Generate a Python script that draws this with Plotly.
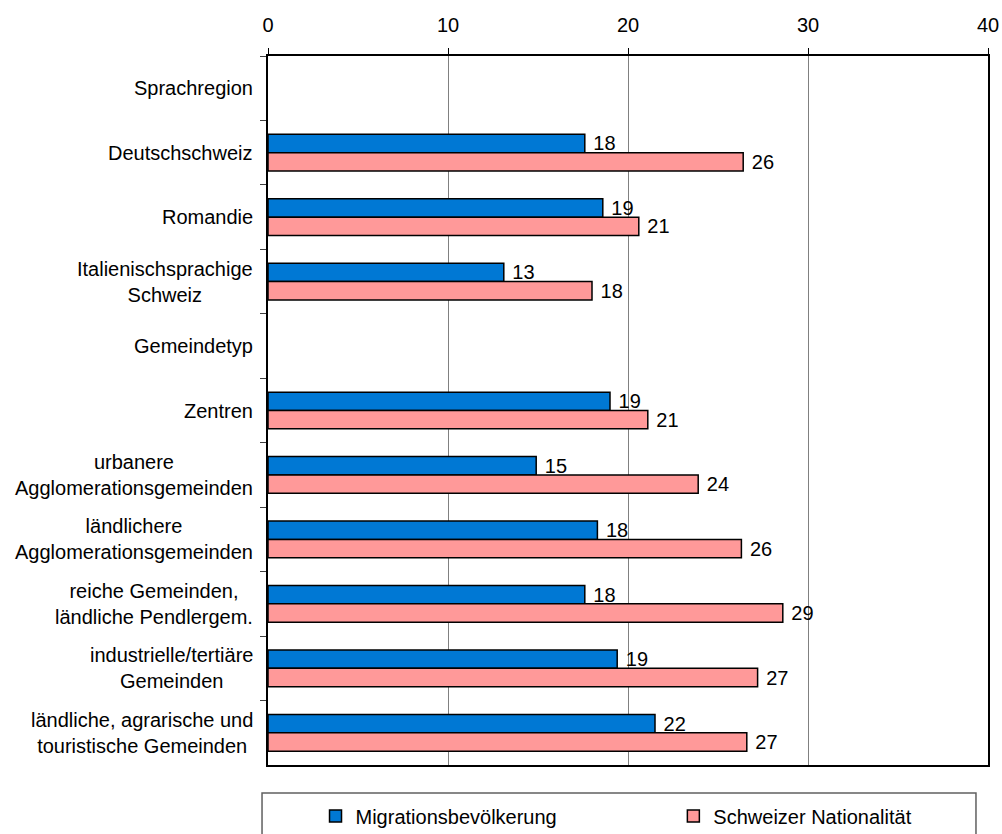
import plotly.graph_objects as go

# Categories, top to bottom (section headers have no bars)
categories = [
    "Sprachregion",
    "Deutschschweiz",
    "Romandie",
    "Italienischsprachige<br>Schweiz",
    "Gemeindetyp",
    "Zentren",
    "urbanere<br>Agglomerationsgemeinden",
    "ländlichere<br>Agglomerationsgemeinden",
    "reiche Gemeinden,<br>ländliche Pendlergem.",
    "industrielle/tertiäre<br>Gemeinden",
    "ländliche, agrarische und<br>touristische Gemeinden",
]

migration = [None, 17.6, 18.6, 13.1, None, 19.0, 14.9, 18.3, 17.6, 19.4, 21.5]
schweizer = [None, 26.4, 20.6, 18.0, None, 21.1, 23.9, 26.3, 28.6, 27.2, 26.6]

series_names = ["Migrationsbevölkerung", "Schweizer Nationalität"]
x_ticks = [0, 10, 20, 30, 40]

FONT = "Liberation Sans, Arial, sans-serif"
FS = 20

fig = go.Figure()
for name, vals, color, leg in [
    (series_names[0], migration, "#0078D4", "legend"),
    (series_names[1], schweizer, "#FF9999", "legend2"),
]:
    fig.add_trace(go.Bar(
        y=categories,
        x=vals,
        name=name,
        legend=leg,
        orientation="h",
        marker=dict(color=color, line=dict(color="black", width=1.5)),
        texttemplate=" %{x:.0f}",
        textposition="outside",
        textfont=dict(family=FONT, size=FS, color="black"),
        constraintext="none",
        cliponaxis=False,
    ))

# Category labels, multi-line ones centred line by line
for cat in categories:
    fig.add_annotation(
        x=0, xref="paper", y=cat, yref="y",
        text=cat, showarrow=False,
        xanchor="right", yanchor="middle", align="center",
        xshift=-13,
        font=dict(family=FONT, size=FS, color="black"),
    )

legend_style = dict(
    orientation="h",
    xanchor="left",
    y=-0.072, yanchor="middle",
    bgcolor="rgba(0,0,0,0)",
    borderwidth=0,
    font=dict(family=FONT, size=FS, color="black"),
)

fig.update_layout(
    width=1002,
    height=834,
    margin=dict(l=268, r=14, t=56, b=69, autoexpand=False),
    paper_bgcolor="white",
    plot_bgcolor="white",
    barmode="group",
    bargap=0.43,
    bargroupgap=0,
    font=dict(family=FONT, size=FS, color="black"),
    showlegend=True,
    legend=dict(x=0.066, **legend_style),
    legend2=dict(x=0.563, **legend_style),
    xaxis=dict(
        side="top",
        range=[0, 40],
        tickvals=x_ticks,
        ticks="outside",
        ticklen=6,
        tickcolor="black",
        showgrid=True,
        gridcolor="#808080",
        gridwidth=1,
        showline=True,
        linecolor="black",
        linewidth=1.5,
        mirror=True,
        zeroline=False,
        tickfont=dict(family=FONT, size=FS, color="black"),
        ticklabelstandoff=8,
    ),
    yaxis=dict(
        type="category",
        categoryorder="array",
        categoryarray=categories,
        autorange="reversed",
        tickson="boundaries",
        ticks="outside",
        ticklen=6,
        tickcolor="#404040",
        showticklabels=False,
        showgrid=False,
        showline=True,
        linecolor="black",
        linewidth=1.5,
        mirror=True,
    ),
)

# Frame around the legend
fig.add_shape(
    type="rect", xref="paper", yref="paper",
    x0=-0.0083, x1=0.9833, y0=-0.1058, y1=-0.0395,
    line=dict(color="#606060", width=1.5),
    fillcolor="rgba(0,0,0,0)",
)

fig.write_html("out.html")
